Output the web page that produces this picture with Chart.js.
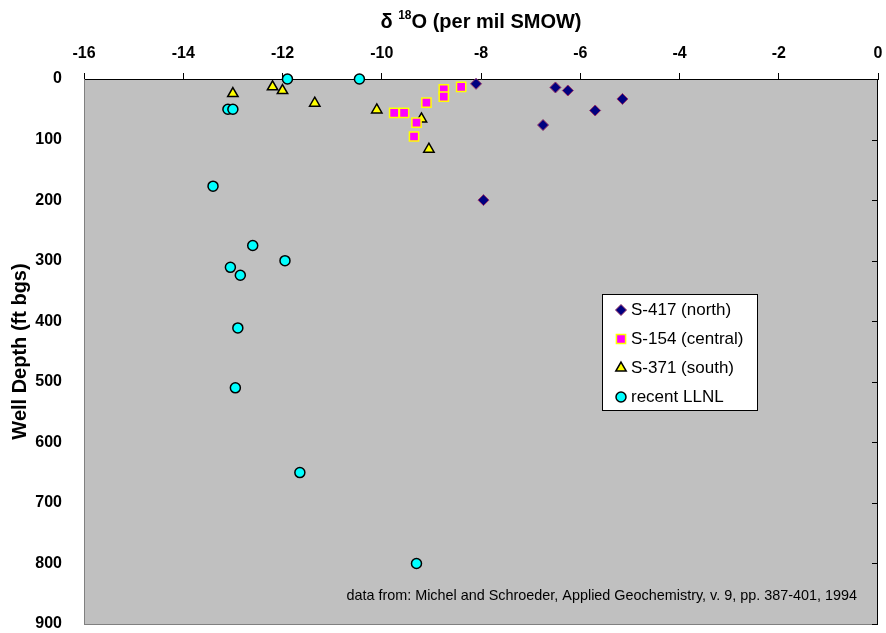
<!DOCTYPE html>
<html>
<head>
<meta charset="utf-8">
<script src="https://cdn.jsdelivr.net/npm/chart.js@4"></script>
<style>
  html, body { margin: 0; padding: 0; background: #fff; }
  #wrap { width: 886px; height: 633px; position: relative; }
</style>
</head>
<body>
<div id="wrap"><canvas id="isoChart"></canvas></div>
<script>
// delta 18O (per mil SMOW) vs well depth (ft bgs)
const xTicks = [-16, -14, -12, -10, -8, -6, -4, -2, 0];
const yTicks = [0, 100, 200, 300, 400, 500, 600, 700, 800, 900];

const seriesNames = ['S-417 (north)', 'S-154 (central)', 'S-371 (south)', 'recent LLNL'];

const s417X = [-8.1, -6.5, -6.25, -5.15, -5.7, -6.75, -7.95];
const s417Y = [8, 14, 19, 33, 52, 76, 200];

const s154X = [-9.75, -9.55, -9.1, -9.3, -9.35, -8.75, -8.75, -8.4];
const s154Y = [56, 56, 39, 72, 95, 17, 29, 13];

const s371X = [-13.0, -12.2, -12.0, -11.35, -10.1, -9.2, -9.05];
const s371Y = [24, 13, 19, 40, 51, 66, 116];

const llnlX = [-11.9, -10.45, -13.1, -13.0, -13.4, -12.6, -11.95, -13.05, -12.85, -12.9, -12.95, -11.65, -9.3];
const llnlY = [0, 0, 50, 50, 177, 275, 300, 311, 324, 411, 510, 650, 800];

const sourceNote = 'data from: Michel and Schroeder, Applied Geochemistry, v. 9, pp. 387-401, 1994';

const FONT = '"Liberation Sans", Arial, sans-serif';

function pts(xs, ys) {
  return xs.map((x, i) => ({ x: x, y: ys[i] }));
}

const styles = [
  { pointStyle: 'rectRot', radius: 5.5, bg: '#000080', border: '#993366', bw: 1 },
  { pointStyle: 'rect', radius: 6.5, bg: '#FF00FF', border: '#FFFF00', bw: 1.5 },
  { pointStyle: 'triangle', radius: 6, bg: '#FFFF00', border: '#000000', bw: 1.5 },
  { pointStyle: 'circle', radius: 5, bg: '#00FFFF', border: '#000000', bw: 1.5 },
];

const plotDecor = {
  id: 'plotDecor',
  beforeDraw(chart) {
    const { ctx, chartArea: a } = chart;
    ctx.save();
    ctx.fillStyle = '#C0C0C0';
    ctx.fillRect(a.left, a.top, a.right - a.left, a.bottom - a.top);
    ctx.restore();
  },
  beforeDatasetsDraw(chart) {
    const { ctx, chartArea: a } = chart;
    const ys = chart.scales.y;
    ctx.save();
    // bottom frame (grey)
    ctx.strokeStyle = '#808080';
    ctx.lineWidth = 1;
    ctx.beginPath();
    ctx.moveTo(a.left, a.bottom + 0.5);
    ctx.lineTo(a.right, a.bottom + 0.5);
    ctx.stroke();
    // right axis (black) with inward ticks
    ctx.strokeStyle = '#000';
    ctx.beginPath();
    ctx.moveTo(a.right - 0.5, a.top);
    ctx.lineTo(a.right - 0.5, a.bottom + 1);
    yTicks.forEach(v => {
      const py = Math.round(ys.getPixelForValue(v)) + 0.5;
      ctx.moveTo(a.right, py);
      ctx.lineTo(a.right - 6, py);
    });
    ctx.stroke();
    ctx.restore();
  },
  afterDraw(chart) {
    const { ctx, chartArea: a } = chart;
    ctx.save();

    // chart title with superscript
    const cx = (a.left + a.right) / 2;
    const ty = 22;
    const f1 = 'bold 20px ' + FONT;
    const f2 = 'bold 12px ' + FONT;
    const p1 = '\u03B4 ';
    const p2 = '18';
    const p3 = 'O (per mil SMOW)';
    ctx.font = f1;
    const w1 = ctx.measureText(p1).width;
    const w3 = ctx.measureText(p3).width;
    ctx.font = f2;
    const w2 = ctx.measureText(p2).width;
    let tx = cx - (w1 + w2 + w3) / 2;
    ctx.fillStyle = '#000';
    ctx.textBaseline = 'middle';
    ctx.textAlign = 'left';
    ctx.font = f1;
    ctx.fillText(p1, tx, ty);
    tx += w1;
    ctx.font = f2;
    ctx.fillText(p2, tx, ty - 6);
    tx += w2;
    ctx.font = f1;
    ctx.fillText(p3, tx, ty);

    // legend box
    const lx = 602, ly = 294, lw = 155, lh = 116;
    ctx.fillStyle = '#fff';
    ctx.fillRect(lx, ly, lw, lh);
    ctx.strokeStyle = '#000';
    ctx.lineWidth = 1;
    ctx.strokeRect(lx + 0.5, ly + 0.5, lw, lh);
    ctx.font = '17px ' + FONT;
    ctx.textBaseline = 'middle';
    seriesNames.forEach((name, i) => {
      const s = styles[i];
      const ry = ly + 16 + i * 29;
      ctx.fillStyle = s.bg;
      ctx.strokeStyle = s.border;
      ctx.lineWidth = s.bw;
      if (Chart.helpers && Chart.helpers.drawPoint) {
        Chart.helpers.drawPoint(ctx, { pointStyle: s.pointStyle, radius: s.radius, borderWidth: s.bw, rotation: 0 }, lx + 19, ry);
      }
      ctx.fillStyle = '#000';
      ctx.fillText(name, lx + 29, ry);
    });

    // source note
    ctx.font = '14.4px ' + FONT;
    ctx.fillStyle = '#000';
    ctx.textAlign = 'right';
    ctx.fillText(sourceNote, a.right - 21, 596);
    ctx.restore();
  }
};

const datasets = [
  pts(s417X, s417Y),
  pts(s154X, s154Y),
  pts(s371X, s371Y),
  pts(llnlX, llnlY),
].map((data, i) => ({
  label: seriesNames[i],
  data: data,
  pointStyle: styles[i].pointStyle,
  pointRadius: styles[i].radius,
  pointHoverRadius: styles[i].radius,
  backgroundColor: styles[i].bg,
  borderColor: styles[i].border,
  pointBorderWidth: styles[i].bw,
  showLine: false,
  clip: false,
}));

new Chart(document.getElementById('isoChart'), {
  type: 'scatter',
  data: { datasets: datasets },
  options: {
    responsive: true,
    maintainAspectRatio: false,
    animation: false,
    layout: { padding: { top: 0, left: 0, right: 6, bottom: 9 } },
    plugins: {
      legend: { display: false },
      tooltip: { enabled: false },
    },
    scales: {
      x: {
        type: 'linear',
        position: 'top',
        min: xTicks[0],
        max: xTicks[xTicks.length - 1],
        afterBuildTicks: scale => { scale.ticks = xTicks.map(v => ({ value: v })); },
        afterFit: scale => {
          scale.height = 79;
          scale.paddingLeft = 0;
          scale.paddingRight = 0;
        },
        grid: { drawOnChartArea: false, drawTicks: true, tickLength: 6, color: '#000' },
        border: { display: true, color: '#000', width: 1 },
        ticks: {
          color: '#000',
          font: { family: FONT, size: 16, weight: 'bold' },
          padding: 10,
          maxRotation: 0,
        },
      },
      y: {
        type: 'linear',
        position: 'left',
        reverse: true,
        min: yTicks[0],
        max: yTicks[yTicks.length - 1],
        afterBuildTicks: scale => { scale.ticks = yTicks.map(v => ({ value: v })); },
        afterFit: scale => {
          scale.width = 84;
          scale.paddingTop = 0;
          scale.paddingBottom = 0;
        },
        grid: { display: false },
        border: { display: true, color: '#808080', width: 1 },
        ticks: {
          color: '#000',
          font: { family: FONT, size: 16, weight: 'bold' },
          padding: 14,
        },
        title: {
          display: true,
          text: 'Well Depth (ft bgs)',
          color: '#000',
          font: { family: FONT, size: 20, weight: 'bold' },
          padding: { top: 8, bottom: 0 },
        },
      },
    },
  },
  plugins: [plotDecor],
});
</script>
</body>
</html>
